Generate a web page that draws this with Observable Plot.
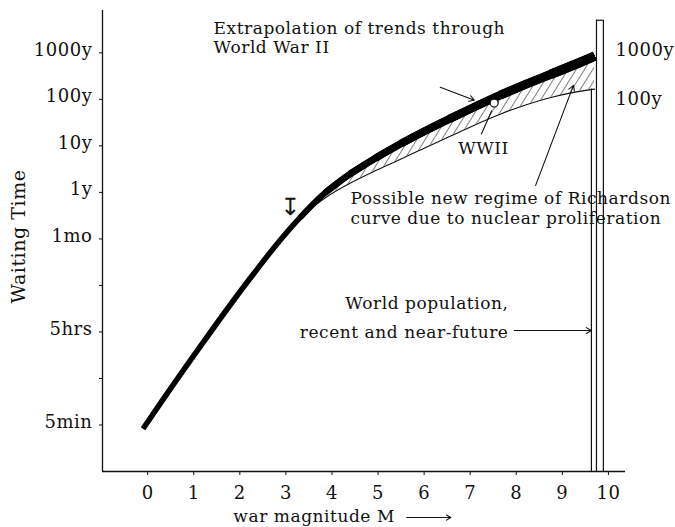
<!DOCTYPE html>
<html>
<head>
<meta charset="utf-8">
<script src="https://cdn.jsdelivr.net/npm/d3@7"></script>
<script src="https://cdn.jsdelivr.net/npm/@observablehq/plot@0.6"></script>
<style>
  html, body { margin: 0; padding: 0; background: #fff; }
  #chart svg text { letter-spacing: 0.55px; }
</style>
</head>
<body>
<div id="chart"></div>
<script>
// ---- data (x = war magnitude M, y = waiting-time level, 1 unit per labelled step) ----
const xTicks = [0, 1, 2, 3, 4, 5, 6, 7, 8, 9, 10];
const yTickLevels = [3, 2, 1, 0, -1, -2, -3, -4, -5];
const yTickLabels = ["1000y", "100y", "10y", "1y", "1mo", "", "5hrs", "", "5min"];

// Richardson curve, extrapolated through WWII (thick black)
const trendM     = [-0.1, 0.6, 1.15, 1.85, 2.3, 2.75, 3.3, 3.85, 4.4, 4.95, 5.5, 6.0, 6.55, 7.1, 7.65, 8.2, 8.75, 9.3, 9.7];
const trendLevel = [-5.08, -4.07, -3.3, -2.34, -1.75, -1.18, -0.55, -0.01, 0.4, 0.74, 1.05, 1.31, 1.58, 1.84, 2.09, 2.32, 2.54, 2.76, 2.93];
// possible new regime: lower edge of hatched band (aligned with trendM from M = 3.3)
const regimeLow  = [-0.55, -0.12, 0.2, 0.47, 0.72, 0.95, 1.2, 1.45, 1.68, 1.88, 2.04, 2.16, 2.22];

// WWII point
const wwiiM = [7.52];
const wwiiLevel = [1.92];

// world population band (vertical lines)
const popM   = [9.63, 9.74, 9.89];
const popTop = [2.22, 3.7, 3.7];

// annotations
const noteText   = ["Extrapolation of trends through", "World War II", "Possible new regime of Richardson", "curve due to nuclear proliferation"];
const noteM      = [1.43, 1.43, 4.4, 4.4];
const noteLevel  = [3.53, 3.12, -0.13, -0.56];
const popText    = ["World population,", "recent and near-future"];
const popTextM   = [7.83, 7.83];
const popTextLvl = [-2.39, -3.01];
const wwiiText   = ["WWII"];
const wwiiTextM  = [7.29];
const wwiiTextL  = [0.95];
const rightText  = ["1000y", "100y"];
const rightLevel = [3.05, 2];

const arrowFromM = [6.35, 8.42, 7.96];
const arrowFromL = [2.26, 0.15, -2.97];
const arrowToM   = [7.09, 9.24, 9.63];
const arrowToL   = [1.98, 2.30, -2.97];
const pointerM   = [7.24, 7.47];
const pointerL   = [1.25, 1.76];
const markerM    = [3.1];
const markerL    = [-0.32];

const xTitle      = "war magnitude M";
const xTitleM     = 1.86;
const xArrowM     = [5.62, 6.58];
const xArrowLevel = -6.99;

const xDomain = [-0.98, 10.37];
const yDomain = [-6, 3.91];

// ---- tables built from the arrays ----
const trend = trendM.map((m, i) => ({M: m, L: trendLevel[i]}));
const regime = regimeLow.map((lo, i) => ({M: trendM[i + 6], lo, hi: trendLevel[i + 6]}));
const notes = noteText.map((t, i) => ({t, M: noteM[i], L: noteLevel[i]}));
const popNotes = popText.map((t, i) => ({t, M: popTextM[i], L: popTextLvl[i]}));
const arrows = arrowFromM.map((m, i) => ({x1: m, y1: arrowFromL[i], x2: arrowToM[i], y2: arrowToL[i]}));
const pops = popM.map((m, i) => ({M: m, top: popTop[i]}));
const yLabelMap = new Map(yTickLevels.map((v, i) => [v, yTickLabels[i]]));

const ink = "#111";
const serif = "DejaVu Serif";

// the printed curve gets heavier towards large magnitudes: stack strokes of growing width
const strokeLayers = [
  {from: -1, width: 5.5},
  {from: 3.3, width: 6.0},
  {from: 3.85, width: 6.5},
  {from: 4.4, width: 7.0},
  {from: 4.95, width: 7.5},
  {from: 5.5, width: 7.9},
  {from: 6.55, width: 8.4},
  {from: 7.65, width: 9.0},
  {from: 8.75, width: 9.5}
];
const trendLines = strokeLayers.map(({from, width}) =>
  Plot.line(trend.filter(d => d.M >= from), {x: "M", y: "L", stroke: "#000", strokeWidth: width, curve: "catmull-rom", strokeLinecap: "butt", strokeLinejoin: "round"})
);

const chart = Plot.plot({
  width: 675,
  height: 527,
  marginLeft: 102,
  marginRight: 50,
  marginTop: 10,
  marginBottom: 56,
  style: {fontFamily: serif, fontSize: "18px", background: "#fff", color: ink},
  x: {domain: xDomain},
  y: {domain: yDomain},
  marks: [
    Plot.axisX({ticks: xTicks, tickSize: 4, tickPadding: 11, label: null, stroke: ink, fill: ink}),
    // y ticks (marks only) and y tick labels (sitting a little above their ticks, as printed)
    Plot.axisY({ticks: yTickLevels, tickSize: 3, tickFormat: () => "", label: null, stroke: ink}),
    Plot.axisY({ticks: yTickLevels, tickSize: 0, tickPadding: 10, tickFormat: d => yLabelMap.get(d), label: null, fill: ink, dy: -3}),
    Plot.ruleX([xDomain[0]], {stroke: ink, strokeWidth: 1.3}),
    Plot.ruleY([yDomain[0]], {stroke: ink, strokeWidth: 1.3}),
    // hatched region
    Plot.areaY(regime, {x: "M", y1: "lo", y2: "hi", fill: "url(#hatch)", curve: "catmull-rom"}),
    Plot.line(regime, {x: "M", y: "lo", stroke: ink, strokeWidth: 1.1, curve: "catmull-rom"}),
    // world population band
    Plot.ruleX(pops, {x: "M", y1: yDomain[0], y2: "top", stroke: ink, strokeWidth: 1.2}),
    Plot.ruleY([popTop[1]], {x1: popM[1], x2: popM[2], stroke: ink, strokeWidth: 1.2}),
    // main curve
    ...trendLines,
    // WWII point
    Plot.dot(wwiiM.map((m, i) => ({M: m, L: wwiiLevel[i]})), {x: "M", y: "L", r: 4, fill: "#fff", stroke: ink, strokeWidth: 1.2}),
    // arrows & pointer
    Plot.arrow(arrows, {x1: "x1", y1: "y1", x2: "x2", y2: "y2", stroke: ink, strokeWidth: 1.1, headLength: 8}),
    Plot.link([{x1: pointerM[0], y1: pointerL[0], x2: pointerM[1], y2: pointerL[1]}], {x1: "x1", y1: "y1", x2: "x2", y2: "y2", stroke: ink, strokeWidth: 1.1}),
    // annotations
    Plot.text(notes, {x: "M", y: "L", text: "t", textAnchor: "start", fontSize: 17, fill: ink}),
    Plot.text(popNotes, {x: "M", y: "L", text: "t", textAnchor: "end", fontSize: 17, fill: ink}),
    Plot.text(wwiiText.map((t, i) => ({t, M: wwiiTextM[i], L: wwiiTextL[i]})), {x: "M", y: "L", text: "t", fontSize: 17, fill: ink}),
    Plot.text(rightText.map((t, i) => ({t, L: rightLevel[i]})), {x: xDomain[1], y: "L", text: "t", textAnchor: "start", dx: -10, fontSize: 18, fill: ink}),
    Plot.text(markerM.map((m, i) => ({M: m, L: markerL[i]})), {x: "M", y: "L", text: () => "↧", fontSize: 24, fontFamily: "DejaVu Sans", fill: ink}),
    // axis titles
    Plot.text(["Waiting Time"], {frameAnchor: "left", textAnchor: "middle", rotate: -90, dx: -84, dy: -4.5, fontSize: 19, fill: ink}),
    Plot.text([xTitle], {x: xTitleM, frameAnchor: "bottom", textAnchor: "start", dy: 50, fontSize: 17, fill: ink}),
    Plot.arrow([{x1: xArrowM[0], x2: xArrowM[1], y: xArrowLevel}], {x1: "x1", x2: "x2", y1: "y", y2: "y", stroke: ink, strokeWidth: 1.1, headLength: 7})
  ]
});

// hatch pattern for the "new regime" band
const svg = d3.select(chart);
const pat = svg.insert("defs", ":first-child")
  .append("pattern")
  .attr("id", "hatch")
  .attr("patternUnits", "userSpaceOnUse")
  .attr("width", 7)
  .attr("height", 7)
  .attr("patternTransform", "rotate(32)");
pat.append("line").attr("x1", 0).attr("y1", 0).attr("x2", 0).attr("y2", 7)
  .attr("stroke", "#000").attr("stroke-width", 1);

document.getElementById("chart").appendChild(chart);
</script>
</body>
</html>
